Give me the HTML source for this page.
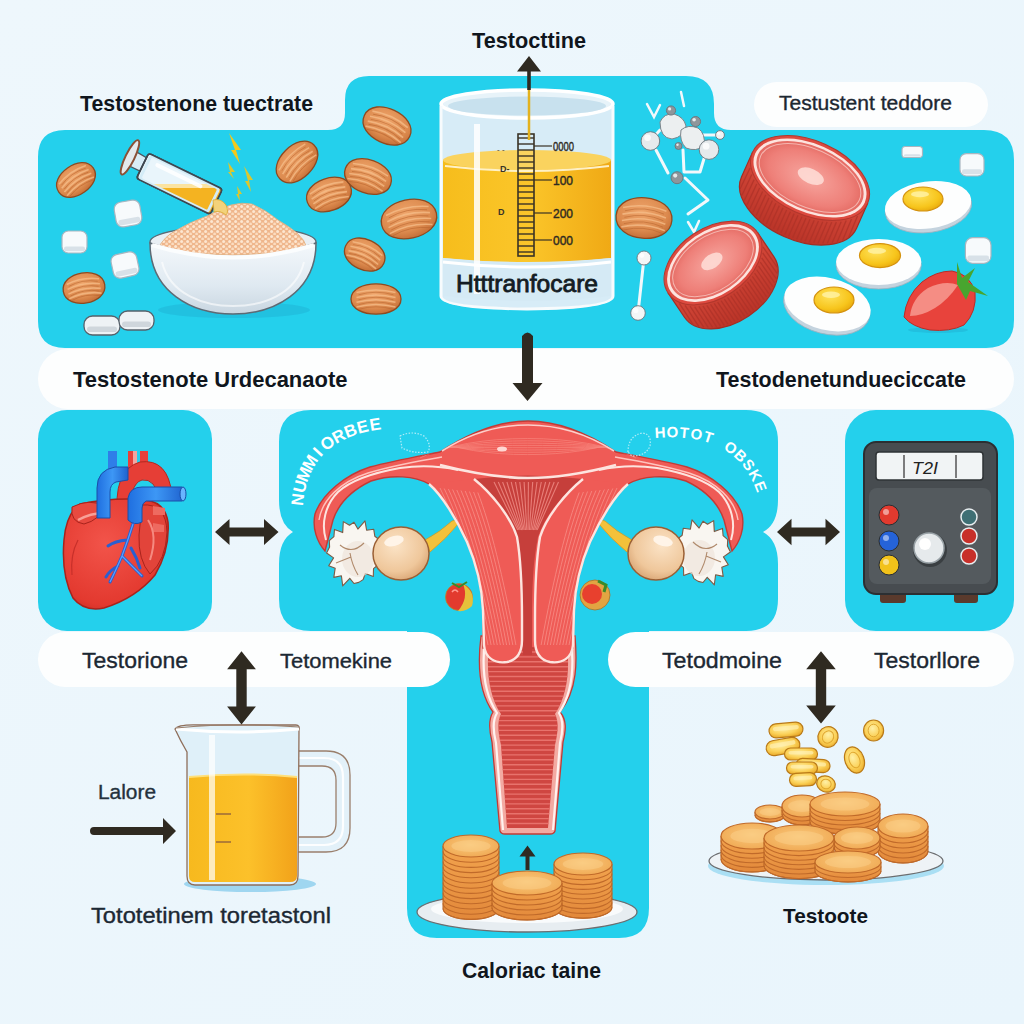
<!DOCTYPE html>
<html><head><meta charset="utf-8"><title>Testosterone diagram</title>
<style>
html,body{margin:0;padding:0;width:1024px;height:1024px;overflow:hidden;background:#e9f5fc}
svg{display:block}
text{font-family:"Liberation Sans",sans-serif}
</style></head>
<body>
<svg width="1024" height="1024" viewBox="0 0 1024 1024">
<defs>
<linearGradient id="bg" x1="0" y1="0" x2="1" y2="1">
<stop offset="0" stop-color="#eef7fc"/><stop offset="1" stop-color="#e9f5fc"/>
</linearGradient>
<radialGradient id="almG" cx="0.45" cy="0.35" r="0.7">
<stop offset="0" stop-color="#eea46a"/><stop offset="0.65" stop-color="#dc8a4e"/><stop offset="1" stop-color="#c06a33"/>
</radialGradient>
<linearGradient id="bowlG" x1="0" y1="0" x2="0" y2="1">
<stop offset="0" stop-color="#f4f8fb"/><stop offset="0.6" stop-color="#dfe9f1"/><stop offset="1" stop-color="#c9d6e0"/>
</linearGradient>
<pattern id="grain" width="6" height="5" patternUnits="userSpaceOnUse">
<rect width="6" height="5" fill="#efb68c"/>
<circle cx="1.6" cy="1.5" r="1.5" fill="#fde6d0"/><circle cx="4.6" cy="4" r="1.4" fill="#fbdcc0"/>
</pattern>
<linearGradient id="liqG" x1="0" y1="0" x2="1" y2="0">
<stop offset="0" stop-color="#f6bd1c"/><stop offset="0.5" stop-color="#fbc62a"/><stop offset="1" stop-color="#f0a915"/>
</linearGradient>
<linearGradient id="jugLiq" x1="0" y1="0" x2="1" y2="0">
<stop offset="0" stop-color="#f7b91e"/><stop offset="0.55" stop-color="#fcc12a"/><stop offset="1" stop-color="#f2a21a"/>
</linearGradient>
<linearGradient id="glassG" x1="0" y1="0" x2="1" y2="0">
<stop offset="0" stop-color="#dbeef9"/><stop offset="0.5" stop-color="#eef7fc"/><stop offset="1" stop-color="#cfe6f4"/>
</linearGradient>
<radialGradient id="meatTop" cx="0.5" cy="0.5" r="0.55">
<stop offset="0" stop-color="#f7a7a0"/><stop offset="0.7" stop-color="#ee7f78"/><stop offset="1" stop-color="#e0625a"/>
</radialGradient>
<linearGradient id="meatSide" x1="0" y1="0" x2="0" y2="1">
<stop offset="0" stop-color="#d94b3c"/><stop offset="1" stop-color="#b93428"/>
</linearGradient>
<radialGradient id="yolk" cx="0.4" cy="0.35" r="0.7">
<stop offset="0" stop-color="#ffe25a"/><stop offset="0.7" stop-color="#f7c51c"/><stop offset="1" stop-color="#e8a90c"/>
</radialGradient>
<radialGradient id="ovary" cx="0.4" cy="0.35" r="0.7">
<stop offset="0" stop-color="#fbe3c6"/><stop offset="0.7" stop-color="#efc79b"/><stop offset="1" stop-color="#d9a574"/>
</radialGradient>
<linearGradient id="uterG" x1="0" y1="0" x2="0" y2="1">
<stop offset="0" stop-color="#f4625f"/><stop offset="1" stop-color="#ea5552"/>
</linearGradient>
<radialGradient id="cookieTop" cx="0.5" cy="0.45" r="0.6">
<stop offset="0" stop-color="#f9c97c"/><stop offset="1" stop-color="#f0a852"/>
</radialGradient>
<linearGradient id="cookieSide" x1="0" y1="0" x2="0" y2="1">
<stop offset="0" stop-color="#f2a44e"/><stop offset="1" stop-color="#e2883a"/>
</linearGradient>
<radialGradient id="coinG" cx="0.45" cy="0.4" r="0.65">
<stop offset="0" stop-color="#fff0a6"/><stop offset="0.6" stop-color="#fbd158"/><stop offset="1" stop-color="#e9a928"/>
</radialGradient>
<radialGradient id="heartG" cx="0.4" cy="0.4" r="0.7">
<stop offset="0" stop-color="#f2544a"/><stop offset="0.8" stop-color="#e3392f"/><stop offset="1" stop-color="#c42a22"/>
</radialGradient>
<linearGradient id="blueV" x1="0" y1="0" x2="1" y2="0">
<stop offset="0" stop-color="#1f6fe0"/><stop offset="0.5" stop-color="#3d97f5"/><stop offset="1" stop-color="#1f63cf"/>
</linearGradient>
</defs>
<rect width="1024" height="1024" fill="url(#bg)"/>
<g fill="#24d0ec">
<path d="M65,130 L328,130 Q345,130 345,113 L345,100 Q345,76 369,76 L686,76 Q714,76 714,104 L714,113 Q714,130 731,130 L984,130 Q1014,130 1014,160 L1014,320 Q1014,348 986,348 L65,348 Q38,348 38,321 L38,157 Q38,130 65,130 Z"/>
<rect x="38" y="410" width="174" height="221" rx="29"/>
<rect x="845" y="410" width="169" height="221" rx="31"/>
<path d="M310,410 L746,410 Q778,410 778,442 L778,500 Q778,524 763,532 Q778,540 778,564 L778,599 Q778,631 746,631 L649,631 L649,908 Q649,938 619,938 L437,938 Q407,938 407,908 L407,631 L311,631 Q279,631 279,599 L279,564 Q279,540 293,532 Q279,524 279,500 L279,442 Q279,410 311,410 Z"/>
</g>
<g fill="#fdfefe">
<rect x="38" y="349" width="976" height="60" rx="30"/>
<rect x="754" y="82" width="234" height="45" rx="22.5"/>
<rect x="38" y="632" width="412" height="55" rx="27.5"/>
<rect x="608" y="632" width="406" height="55" rx="27.5"/>
</g>
<g transform="translate(76,180) rotate(-35)"><path d="M-21,0 C-21,-19.6 21,-19.6 21,0 C21,19.6 -21,19.6 -21,0 Z" fill="url(#almG)" stroke="#8e4a20" stroke-width="1.3"/><path d="M-16.4,-6.2 Q0,-11.2 16.4,-6.2" stroke="#f5bd8a" stroke-width="1.6" fill="none" opacity="0.75"/><path d="M-14.7,-4.1 Q0,-9.0 14.7,-4.1" stroke="#b8642e" stroke-width="0.9" fill="none" opacity="0.6"/><path d="M-16.4,-1.4 Q0,-6.4 16.4,-1.4" stroke="#f5bd8a" stroke-width="1.6" fill="none" opacity="0.75"/><path d="M-14.7,0.7 Q0,-4.2 14.7,0.7" stroke="#b8642e" stroke-width="0.9" fill="none" opacity="0.6"/><path d="M-16.4,3.2 Q0,-1.7 16.4,3.2" stroke="#f5bd8a" stroke-width="1.6" fill="none" opacity="0.75"/><path d="M-14.7,5.4 Q0,0.4 14.7,5.4" stroke="#b8642e" stroke-width="0.9" fill="none" opacity="0.6"/><path d="M-16.4,7.8 Q0,2.9 16.4,7.8" stroke="#f5bd8a" stroke-width="1.6" fill="none" opacity="0.75"/><path d="M-14.7,10.0 Q0,5.1 14.7,10.0" stroke="#b8642e" stroke-width="0.9" fill="none" opacity="0.6"/></g>
<g transform="translate(84,288) rotate(-10)"><path d="M-21,0 C-21,-20.2 21,-20.2 21,0 C21,20.2 -21,20.2 -21,0 Z" fill="url(#almG)" stroke="#8e4a20" stroke-width="1.3"/><path d="M-16.4,-6.5 Q0,-11.6 16.4,-6.5" stroke="#f5bd8a" stroke-width="1.6" fill="none" opacity="0.75"/><path d="M-14.7,-4.2 Q0,-9.3 14.7,-4.2" stroke="#b8642e" stroke-width="0.9" fill="none" opacity="0.6"/><path d="M-16.4,-1.5 Q0,-6.6 16.4,-1.5" stroke="#f5bd8a" stroke-width="1.6" fill="none" opacity="0.75"/><path d="M-14.7,0.8 Q0,-4.3 14.7,0.8" stroke="#b8642e" stroke-width="0.9" fill="none" opacity="0.6"/><path d="M-16.4,3.3 Q0,-1.8 16.4,3.3" stroke="#f5bd8a" stroke-width="1.6" fill="none" opacity="0.75"/><path d="M-14.7,5.6 Q0,0.4 14.7,5.6" stroke="#b8642e" stroke-width="0.9" fill="none" opacity="0.6"/><path d="M-16.4,8.1 Q0,3.0 16.4,8.1" stroke="#f5bd8a" stroke-width="1.6" fill="none" opacity="0.75"/><path d="M-14.7,10.4 Q0,5.2 14.7,10.4" stroke="#b8642e" stroke-width="0.9" fill="none" opacity="0.6"/></g>
<g transform="translate(297,162) rotate(-45)"><path d="M-24,0 C-24,-21.6 24,-21.6 24,0 C24,21.6 -24,21.6 -24,0 Z" fill="url(#almG)" stroke="#8e4a20" stroke-width="1.3"/><path d="M-18.7,-6.9 Q0,-12.3 18.7,-6.9" stroke="#f5bd8a" stroke-width="1.6" fill="none" opacity="0.75"/><path d="M-16.8,-4.5 Q0,-9.9 16.8,-4.5" stroke="#b8642e" stroke-width="0.9" fill="none" opacity="0.6"/><path d="M-18.7,-1.6 Q0,-7.0 18.7,-1.6" stroke="#f5bd8a" stroke-width="1.6" fill="none" opacity="0.75"/><path d="M-16.8,0.8 Q0,-4.6 16.8,0.8" stroke="#b8642e" stroke-width="0.9" fill="none" opacity="0.6"/><path d="M-18.7,3.5 Q0,-1.9 18.7,3.5" stroke="#f5bd8a" stroke-width="1.6" fill="none" opacity="0.75"/><path d="M-16.8,5.9 Q0,0.5 16.8,5.9" stroke="#b8642e" stroke-width="0.9" fill="none" opacity="0.6"/><path d="M-18.7,8.6 Q0,3.2 18.7,8.6" stroke="#f5bd8a" stroke-width="1.6" fill="none" opacity="0.75"/><path d="M-16.8,11.0 Q0,5.6 16.8,11.0" stroke="#b8642e" stroke-width="0.9" fill="none" opacity="0.6"/></g>
<g transform="translate(329,194.5) rotate(-20)"><path d="M-23,0 C-23,-21.6 23,-21.6 23,0 C23,21.6 -23,21.6 -23,0 Z" fill="url(#almG)" stroke="#8e4a20" stroke-width="1.3"/><path d="M-17.9,-6.9 Q0,-12.3 17.9,-6.9" stroke="#f5bd8a" stroke-width="1.6" fill="none" opacity="0.75"/><path d="M-16.1,-4.5 Q0,-9.9 16.1,-4.5" stroke="#b8642e" stroke-width="0.9" fill="none" opacity="0.6"/><path d="M-17.9,-1.6 Q0,-7.0 17.9,-1.6" stroke="#f5bd8a" stroke-width="1.6" fill="none" opacity="0.75"/><path d="M-16.1,0.8 Q0,-4.6 16.1,0.8" stroke="#b8642e" stroke-width="0.9" fill="none" opacity="0.6"/><path d="M-17.9,3.5 Q0,-1.9 17.9,3.5" stroke="#f5bd8a" stroke-width="1.6" fill="none" opacity="0.75"/><path d="M-16.1,5.9 Q0,0.5 16.1,5.9" stroke="#b8642e" stroke-width="0.9" fill="none" opacity="0.6"/><path d="M-17.9,8.6 Q0,3.2 17.9,8.6" stroke="#f5bd8a" stroke-width="1.6" fill="none" opacity="0.75"/><path d="M-16.1,11.0 Q0,5.6 16.1,11.0" stroke="#b8642e" stroke-width="0.9" fill="none" opacity="0.6"/></g>
<g transform="translate(368,176.5) rotate(20)"><path d="M-24,0 C-24,-22.3 24,-22.3 24,0 C24,22.3 -24,22.3 -24,0 Z" fill="url(#almG)" stroke="#8e4a20" stroke-width="1.3"/><path d="M-18.7,-7.1 Q0,-12.7 18.7,-7.1" stroke="#f5bd8a" stroke-width="1.6" fill="none" opacity="0.75"/><path d="M-16.8,-4.6 Q0,-10.2 16.8,-4.6" stroke="#b8642e" stroke-width="0.9" fill="none" opacity="0.6"/><path d="M-18.7,-1.6 Q0,-7.3 18.7,-1.6" stroke="#f5bd8a" stroke-width="1.6" fill="none" opacity="0.75"/><path d="M-16.8,0.8 Q0,-4.8 16.8,0.8" stroke="#b8642e" stroke-width="0.9" fill="none" opacity="0.6"/><path d="M-18.7,3.6 Q0,-2.0 18.7,3.6" stroke="#f5bd8a" stroke-width="1.6" fill="none" opacity="0.75"/><path d="M-16.8,6.1 Q0,0.5 16.8,6.1" stroke="#b8642e" stroke-width="0.9" fill="none" opacity="0.6"/><path d="M-18.7,8.9 Q0,3.3 18.7,8.9" stroke="#f5bd8a" stroke-width="1.6" fill="none" opacity="0.75"/><path d="M-16.8,11.4 Q0,5.8 16.8,11.4" stroke="#b8642e" stroke-width="0.9" fill="none" opacity="0.6"/></g>
<g transform="translate(387,126) rotate(25)"><path d="M-25,0 C-25,-23.0 25,-23.0 25,0 C25,23.0 -25,23.0 -25,0 Z" fill="url(#almG)" stroke="#8e4a20" stroke-width="1.3"/><path d="M-19.5,-7.3 Q0,-13.1 19.5,-7.3" stroke="#f5bd8a" stroke-width="1.6" fill="none" opacity="0.75"/><path d="M-17.5,-4.8 Q0,-10.5 17.5,-4.8" stroke="#b8642e" stroke-width="0.9" fill="none" opacity="0.6"/><path d="M-19.5,-1.7 Q0,-7.5 19.5,-1.7" stroke="#f5bd8a" stroke-width="1.6" fill="none" opacity="0.75"/><path d="M-17.5,0.8 Q0,-4.9 17.5,0.8" stroke="#b8642e" stroke-width="0.9" fill="none" opacity="0.6"/><path d="M-19.5,3.7 Q0,-2.0 19.5,3.7" stroke="#f5bd8a" stroke-width="1.6" fill="none" opacity="0.75"/><path d="M-17.5,6.3 Q0,0.5 17.5,6.3" stroke="#b8642e" stroke-width="0.9" fill="none" opacity="0.6"/><path d="M-19.5,9.2 Q0,3.4 19.5,9.2" stroke="#f5bd8a" stroke-width="1.6" fill="none" opacity="0.75"/><path d="M-17.5,11.7 Q0,5.9 17.5,11.7" stroke="#b8642e" stroke-width="0.9" fill="none" opacity="0.6"/></g>
<g transform="translate(409,219) rotate(-12)"><path d="M-28,0 C-28,-25.7 28,-25.7 28,0 C28,25.7 -28,25.7 -28,0 Z" fill="url(#almG)" stroke="#8e4a20" stroke-width="1.3"/><path d="M-21.8,-8.2 Q0,-14.6 21.8,-8.2" stroke="#f5bd8a" stroke-width="1.6" fill="none" opacity="0.75"/><path d="M-19.6,-5.3 Q0,-11.8 19.6,-5.3" stroke="#b8642e" stroke-width="0.9" fill="none" opacity="0.6"/><path d="M-21.8,-1.9 Q0,-8.4 21.8,-1.9" stroke="#f5bd8a" stroke-width="1.6" fill="none" opacity="0.75"/><path d="M-19.6,1.0 Q0,-5.5 19.6,1.0" stroke="#b8642e" stroke-width="0.9" fill="none" opacity="0.6"/><path d="M-21.8,4.2 Q0,-2.3 21.8,4.2" stroke="#f5bd8a" stroke-width="1.6" fill="none" opacity="0.75"/><path d="M-19.6,7.0 Q0,0.6 19.6,7.0" stroke="#b8642e" stroke-width="0.9" fill="none" opacity="0.6"/><path d="M-21.8,10.3 Q0,3.8 21.8,10.3" stroke="#f5bd8a" stroke-width="1.6" fill="none" opacity="0.75"/><path d="M-19.6,13.1 Q0,6.6 19.6,13.1" stroke="#b8642e" stroke-width="0.9" fill="none" opacity="0.6"/></g>
<g transform="translate(364.7,254.6) rotate(25)"><path d="M-21,0 C-21,-20.2 21,-20.2 21,0 C21,20.2 -21,20.2 -21,0 Z" fill="url(#almG)" stroke="#8e4a20" stroke-width="1.3"/><path d="M-16.4,-6.5 Q0,-11.6 16.4,-6.5" stroke="#f5bd8a" stroke-width="1.6" fill="none" opacity="0.75"/><path d="M-14.7,-4.2 Q0,-9.3 14.7,-4.2" stroke="#b8642e" stroke-width="0.9" fill="none" opacity="0.6"/><path d="M-16.4,-1.5 Q0,-6.6 16.4,-1.5" stroke="#f5bd8a" stroke-width="1.6" fill="none" opacity="0.75"/><path d="M-14.7,0.8 Q0,-4.3 14.7,0.8" stroke="#b8642e" stroke-width="0.9" fill="none" opacity="0.6"/><path d="M-16.4,3.3 Q0,-1.8 16.4,3.3" stroke="#f5bd8a" stroke-width="1.6" fill="none" opacity="0.75"/><path d="M-14.7,5.6 Q0,0.4 14.7,5.6" stroke="#b8642e" stroke-width="0.9" fill="none" opacity="0.6"/><path d="M-16.4,8.1 Q0,3.0 16.4,8.1" stroke="#f5bd8a" stroke-width="1.6" fill="none" opacity="0.75"/><path d="M-14.7,10.4 Q0,5.2 14.7,10.4" stroke="#b8642e" stroke-width="0.9" fill="none" opacity="0.6"/></g>
<g transform="translate(376,299) rotate(0)"><path d="M-25,0 C-25,-20.2 25,-20.2 25,0 C25,20.2 -25,20.2 -25,0 Z" fill="url(#almG)" stroke="#8e4a20" stroke-width="1.3"/><path d="M-19.5,-6.5 Q0,-11.6 19.5,-6.5" stroke="#f5bd8a" stroke-width="1.6" fill="none" opacity="0.75"/><path d="M-17.5,-4.2 Q0,-9.3 17.5,-4.2" stroke="#b8642e" stroke-width="0.9" fill="none" opacity="0.6"/><path d="M-19.5,-1.5 Q0,-6.6 19.5,-1.5" stroke="#f5bd8a" stroke-width="1.6" fill="none" opacity="0.75"/><path d="M-17.5,0.8 Q0,-4.3 17.5,0.8" stroke="#b8642e" stroke-width="0.9" fill="none" opacity="0.6"/><path d="M-19.5,3.3 Q0,-1.8 19.5,3.3" stroke="#f5bd8a" stroke-width="1.6" fill="none" opacity="0.75"/><path d="M-17.5,5.6 Q0,0.4 17.5,5.6" stroke="#b8642e" stroke-width="0.9" fill="none" opacity="0.6"/><path d="M-19.5,8.1 Q0,3.0 19.5,8.1" stroke="#f5bd8a" stroke-width="1.6" fill="none" opacity="0.75"/><path d="M-17.5,10.4 Q0,5.2 17.5,10.4" stroke="#b8642e" stroke-width="0.9" fill="none" opacity="0.6"/></g>
<g transform="translate(644,218) rotate(5)"><path d="M-28,0 C-28,-27.0 28,-27.0 28,0 C28,27.0 -28,27.0 -28,0 Z" fill="url(#almG)" stroke="#8e4a20" stroke-width="1.3"/><path d="M-21.8,-8.6 Q0,-15.4 21.8,-8.6" stroke="#f5bd8a" stroke-width="1.6" fill="none" opacity="0.75"/><path d="M-19.6,-5.6 Q0,-12.4 19.6,-5.6" stroke="#b8642e" stroke-width="0.9" fill="none" opacity="0.6"/><path d="M-21.8,-2.0 Q0,-8.8 21.8,-2.0" stroke="#f5bd8a" stroke-width="1.6" fill="none" opacity="0.75"/><path d="M-19.6,1.0 Q0,-5.8 19.6,1.0" stroke="#b8642e" stroke-width="0.9" fill="none" opacity="0.6"/><path d="M-21.8,4.4 Q0,-2.4 21.8,4.4" stroke="#f5bd8a" stroke-width="1.6" fill="none" opacity="0.75"/><path d="M-19.6,7.4 Q0,0.6 19.6,7.4" stroke="#b8642e" stroke-width="0.9" fill="none" opacity="0.6"/><path d="M-21.8,10.8 Q0,4.0 21.8,10.8" stroke="#f5bd8a" stroke-width="1.6" fill="none" opacity="0.75"/><path d="M-19.6,13.8 Q0,7.0 19.6,13.8" stroke="#b8642e" stroke-width="0.9" fill="none" opacity="0.6"/></g>
<g transform="translate(128.0,213.5) rotate(-10)"><rect x="-13.0" y="-12.5" width="26" height="25" rx="7.0" fill="#f7fafc" stroke="#a9b6c0" stroke-width="1.2"/><rect x="-11.0" y="5.0" width="22" height="5.5" rx="2" fill="#d8e1e8"/></g>
<g transform="translate(74.5,242.0) rotate(0)"><rect x="-12.5" y="-11.0" width="25" height="22" rx="6.2" fill="#f7fafc" stroke="#a9b6c0" stroke-width="1.2"/><rect x="-10.5" y="4.4" width="21" height="4.8" rx="2" fill="#d8e1e8"/></g>
<g transform="translate(125.0,265.0) rotate(-12)"><rect x="-13.0" y="-12.0" width="26" height="24" rx="6.7" fill="#f7fafc" stroke="#a9b6c0" stroke-width="1.2"/><rect x="-11.0" y="4.8" width="22" height="5.3" rx="2" fill="#d8e1e8"/></g>
<rect x="84" y="316" width="36" height="19" rx="8.5" fill="#eef2f5" stroke="#56606a" stroke-width="1.3"/><rect x="87" y="326.4" width="30" height="5.7" rx="3" fill="#cfd6dc"/>
<rect x="119" y="311" width="35" height="19" rx="8.5" fill="#eef2f5" stroke="#56606a" stroke-width="1.3"/><rect x="122" y="321.4" width="29" height="5.7" rx="3" fill="#cfd6dc"/>
<ellipse cx="234" cy="310" rx="76" ry="8" fill="#1fb0d2" opacity="0.45"/>
<ellipse cx="233" cy="242" rx="83" ry="16" fill="#e9eff4" stroke="#5e6a74" stroke-width="1.4"/>
<path d="M158,248 Q165,236 175,231 Q190,222 207,216 Q220,208 231,205 Q242,202 252,204 Q266,210 278,220 Q290,227 297,233 Q305,240 307,248 Q232,262 158,248 Z" fill="url(#grain)" stroke="#e0ae80" stroke-width="0.8"/>
<path d="M150,243 C150,292 192,314 233,314 C274,314 316,292 316,243 Q233,272 150,243 Z" fill="url(#bowlG)" stroke="#5e6a74" stroke-width="1.5"/>
<path d="M152,245 Q233,270 314,245" fill="none" stroke="#fbfdfe" stroke-width="4"/>
<path d="M162,262 C170,295 205,306 233,306 C262,306 296,295 304,262" fill="none" stroke="#ffffff" stroke-width="2" opacity="0.6"/>
<defs><clipPath id="vialClip"><path d="M-38,-14 L38,-14 Q41,-14 41,-11 L41,11 Q41,14 38,14 L-38,14 Q-41,14 -41,11 L-41,-11 Q-41,-14 -38,-14 Z" transform="translate(179.4,183.7) rotate(26)"/></clipPath></defs>
<g transform="translate(179.4,183.7) rotate(26)"><path d="M-55,-10 L-41,-9 L-41,6 L-55,6 Z" fill="#d8ecf6" stroke="#4a5660" stroke-width="1.3"/><path d="M-38,-14 L38,-14 Q41,-14 41,-11 L41,11 Q41,14 38,14 L-38,14 Q-41,14 -41,11 L-41,-11 Q-41,-14 -38,-14 Z" fill="#e9f5fb" stroke="#3d4750" stroke-width="1.6"/></g>
<rect x="120" y="187" width="110" height="40" fill="#f4b321" clip-path="url(#vialClip)"/>
<rect x="120" y="184" width="110" height="4" fill="#fbe3a0" clip-path="url(#vialClip)"/>
<g transform="translate(179.4,183.7) rotate(26)"><path d="M-38,-14 L38,-14 Q41,-14 41,-11 L41,11 Q41,14 38,14 L-38,14 Q-41,14 -41,11 L-41,-11 Q-41,-14 -38,-14 Z" fill="none" stroke="#d3ecf7" stroke-width="3" transform="scale(0.92)"/><path d="M-38,-14 L38,-14 Q41,-14 41,-11 L41,11 Q41,14 38,14 L-38,14 Q-41,14 -41,11 L-41,-11 Q-41,-14 -38,-14 Z" fill="none" stroke="#3d4750" stroke-width="1.6"/><rect x="-30" y="-9" width="52" height="4" rx="2" fill="#ffffff" opacity="0.85"/><ellipse cx="-56" cy="-2" rx="4.5" ry="19" fill="#e3e9ec" stroke="#8a5036" stroke-width="2"/></g>
<path d="M213,200 Q221,198 226,205 Q229,212 226,215 Q220,210 214,212 Z" fill="#f3d27a" stroke="#d9a935" stroke-width="0.8"/>
<path d="M229,133 L241,150 L236,150 L240,164 L231,150 L235,150 Z" fill="#f2c91c"/>
<path d="M228,162 L235,172 L231,172 L234,179 L228,172 L230,172 Z" fill="#f0c51a" opacity="0.9"/>
<path d="M244,166 L253,180 L249,180 L251,192 L245,181 L248,181 Z" fill="#f0c51a" opacity="0.9"/>
<path d="M237,186 L242,194 L239,194 L240,201 L236,194 L238,194 Z" fill="#f0c51a" opacity="0.9"/>
<path d="M441,106 L441,296 Q441,308 527,309 Q613,308 613,296 L613,106 Z" fill="#d7ecf7" stroke="#c7dbe7" stroke-width="2"/>
<path d="M443,160 Q527,150 611,160 L611,258 Q527,266 443,258 Z" fill="url(#liqG)"/>
<ellipse cx="527" cy="160" rx="84" ry="10" fill="#fad35e"/>
<path d="M445,166 Q527,176 609,166" stroke="#fff6d8" stroke-width="2" fill="none" opacity="0.9"/>
<path d="M443,258 Q527,268 611,258 L611,296 Q527,306 443,296 Z" fill="#d5eaf5"/>
<path d="M443,262 Q527,272 611,262" stroke="#ffffff" stroke-width="3" fill="none"/>
<rect x="474" y="124" width="6" height="170" fill="#ffffff" opacity="0.85"/>
<ellipse cx="527" cy="104" rx="86" ry="14" fill="#e7f3f9" stroke="#ffffff" stroke-width="3.5"/>
<ellipse cx="527" cy="106" rx="79" ry="9.5" fill="#c8e1ee"/>
<path d="M441,106 L441,296 Q441,308 527,309 Q613,308 613,296 L613,106" fill="none" stroke="#f7fbfd" stroke-width="3"/>
<rect x="518" y="134" width="16" height="122" fill="none" stroke="#3a3326" stroke-width="1.6"/>
<line x1="518" y1="138" x2="534" y2="138" stroke="#3a3326" stroke-width="1.4"/><line x1="518" y1="144" x2="534" y2="144" stroke="#3a3326" stroke-width="1.4"/><line x1="518" y1="150" x2="534" y2="150" stroke="#3a3326" stroke-width="1.4"/><line x1="518" y1="156" x2="534" y2="156" stroke="#3a3326" stroke-width="1.4"/><line x1="518" y1="162" x2="534" y2="162" stroke="#3a3326" stroke-width="1.4"/><line x1="518" y1="168" x2="534" y2="168" stroke="#3a3326" stroke-width="1.4"/><line x1="518" y1="174" x2="534" y2="174" stroke="#3a3326" stroke-width="1.4"/><line x1="518" y1="180" x2="534" y2="180" stroke="#3a3326" stroke-width="1.4"/><line x1="518" y1="186" x2="534" y2="186" stroke="#3a3326" stroke-width="1.4"/><line x1="518" y1="192" x2="534" y2="192" stroke="#3a3326" stroke-width="1.4"/><line x1="518" y1="198" x2="534" y2="198" stroke="#3a3326" stroke-width="1.4"/><line x1="518" y1="204" x2="534" y2="204" stroke="#3a3326" stroke-width="1.4"/><line x1="518" y1="210" x2="534" y2="210" stroke="#3a3326" stroke-width="1.4"/><line x1="518" y1="216" x2="534" y2="216" stroke="#3a3326" stroke-width="1.4"/><line x1="518" y1="222" x2="534" y2="222" stroke="#3a3326" stroke-width="1.4"/><line x1="518" y1="228" x2="534" y2="228" stroke="#3a3326" stroke-width="1.4"/><line x1="518" y1="234" x2="534" y2="234" stroke="#3a3326" stroke-width="1.4"/><line x1="518" y1="240" x2="534" y2="240" stroke="#3a3326" stroke-width="1.4"/><line x1="518" y1="246" x2="534" y2="246" stroke="#3a3326" stroke-width="1.4"/><line x1="518" y1="252" x2="534" y2="252" stroke="#3a3326" stroke-width="1.4"/>
<line x1="534" y1="146" x2="552" y2="146" stroke="#3a3326" stroke-width="1.2"/>
<text x="553" y="151" font-size="12" font-family="Liberation Serif" fill="#2e2a22" stroke="#2e2a22" stroke-width="0.4" textLength="21" lengthAdjust="spacingAndGlyphs">0000</text>
<line x1="534" y1="180" x2="552" y2="180" stroke="#3a3326" stroke-width="1.2"/>
<text x="553" y="185" font-size="12" font-family="Liberation Serif" fill="#2e2a22" stroke="#2e2a22" stroke-width="0.4" textLength="20" lengthAdjust="spacingAndGlyphs">100</text>
<line x1="534" y1="213" x2="552" y2="213" stroke="#3a3326" stroke-width="1.2"/>
<text x="553" y="218" font-size="12" font-family="Liberation Serif" fill="#2e2a22" stroke="#2e2a22" stroke-width="0.4" textLength="20" lengthAdjust="spacingAndGlyphs">200</text>
<line x1="534" y1="240" x2="552" y2="240" stroke="#3a3326" stroke-width="1.2"/>
<text x="553" y="245" font-size="12" font-family="Liberation Serif" fill="#2e2a22" stroke="#2e2a22" stroke-width="0.4" textLength="20" lengthAdjust="spacingAndGlyphs">000</text>
<text x="497" y="152" font-size="8" fill="#3a3326">- -</text>
<text x="500" y="172" font-size="9" font-weight="bold" fill="#3a3326">D-</text>
<text x="498" y="215" font-size="9" font-weight="bold" fill="#3a3326">D</text>
<line x1="529" y1="90" x2="529" y2="140" stroke="#e3b21e" stroke-width="2.5"/>
<text x="456" y="292" font-size="23" font-weight="normal" fill="#141c24" stroke="#141c24" stroke-width="0.8" textLength="142" lengthAdjust="spacingAndGlyphs">Htttranfocare</text>
<g stroke="#f2f8fb" stroke-width="3" fill="none" stroke-linecap="round" stroke-linejoin="round"><path d="M656,150 L668,173"/><path d="M683,150 L684,172 L700,172 L706,152"/><path d="M685,178 L708,200 L688,214"/><path d="M644,258 L638,313"/><path d="M650,141 L660,130"/><path d="M700,135 L720,135"/></g>
<path d="M647,104 L654,117 L660,105 M681,92 L684,106 M688,222 L694,232 L699,221" stroke="#f2f8fb" stroke-width="2.5" fill="none" stroke-linecap="round"/>
<path d="M660,122 Q664,113 674,114 Q684,117 686,126 Q684,137 672,139 Q660,138 660,122 Z" fill="#eceff0" stroke="#7d858b" stroke-width="1"/>
<path d="M681,130 Q688,124 698,128 Q706,134 704,146 Q696,152 686,148 Q679,141 681,130 Z" fill="#eceff0" stroke="#7d858b" stroke-width="1"/>
<circle cx="650.4" cy="141" r="9.3" fill="#e6eaec" stroke="#6c747a" stroke-width="0.9"/>
<circle cx="647.6" cy="137.7" r="3.3" fill="#ffffff" opacity="0.8"/>
<circle cx="709" cy="149.6" r="9.8" fill="#e6eaec" stroke="#6c747a" stroke-width="0.9"/>
<circle cx="706.1" cy="146.2" r="3.4" fill="#ffffff" opacity="0.8"/>
<circle cx="671" cy="110.5" r="4.6" fill="#8e969b" stroke="#6c747a" stroke-width="0.9"/>
<circle cx="669.6" cy="108.9" r="1.6" fill="#ffffff" opacity="0.8"/>
<circle cx="695.6" cy="121.5" r="5" fill="#8e969b" stroke="#6c747a" stroke-width="0.9"/>
<circle cx="694.1" cy="119.8" r="1.8" fill="#ffffff" opacity="0.8"/>
<circle cx="720" cy="135" r="4.4" fill="#f0f3f4" stroke="#6c747a" stroke-width="0.9"/>
<circle cx="718.7" cy="133.5" r="1.5" fill="#ffffff" opacity="0.8"/>
<circle cx="678.5" cy="146" r="3.5" fill="#8e969b" stroke="#6c747a" stroke-width="0.9"/>
<circle cx="677.5" cy="144.8" r="1.2" fill="#ffffff" opacity="0.8"/>
<circle cx="677" cy="177.7" r="6" fill="#8e969b" stroke="#6c747a" stroke-width="0.9"/>
<circle cx="675.2" cy="175.6" r="2.1" fill="#ffffff" opacity="0.8"/>
<circle cx="644" cy="258" r="7" fill="#f3f6f7" stroke="#6c747a" stroke-width="0.9"/>
<circle cx="641.9" cy="255.6" r="2.4" fill="#ffffff" opacity="0.8"/>
<circle cx="638" cy="313" r="7.3" fill="#f3f6f7" stroke="#6c747a" stroke-width="0.9"/>
<circle cx="635.8" cy="310.4" r="2.6" fill="#ffffff" opacity="0.8"/>
<g transform="translate(810,178) rotate(24)"><path d="M-63,0 L-63,27 A63,37 0 0 0 63,27 L63,0 Z" fill="url(#meatSide)" stroke="#a22e24" stroke-width="1.2"/><line x1="-58.8" y1="15.3" x2="-59.4" y2="38.3" stroke="#ae3228" stroke-width="1.3" opacity="0.75"/><line x1="-54.6" y1="20.5" x2="-55.1" y2="43.5" stroke="#ae3228" stroke-width="1.3" opacity="0.75"/><line x1="-50.4" y1="24.2" x2="-50.9" y2="47.2" stroke="#ae3228" stroke-width="1.3" opacity="0.75"/><line x1="-46.2" y1="27.2" x2="-46.7" y2="50.2" stroke="#ae3228" stroke-width="1.3" opacity="0.75"/><line x1="-42.0" y1="29.6" x2="-42.4" y2="52.6" stroke="#ae3228" stroke-width="1.3" opacity="0.75"/><line x1="-37.8" y1="31.6" x2="-38.2" y2="54.6" stroke="#ae3228" stroke-width="1.3" opacity="0.75"/><line x1="-33.6" y1="33.3" x2="-33.9" y2="56.3" stroke="#ae3228" stroke-width="1.3" opacity="0.75"/><line x1="-29.4" y1="34.7" x2="-29.7" y2="57.7" stroke="#ae3228" stroke-width="1.3" opacity="0.75"/><line x1="-25.2" y1="35.9" x2="-25.5" y2="58.9" stroke="#ae3228" stroke-width="1.3" opacity="0.75"/><line x1="-21.0" y1="36.9" x2="-21.2" y2="59.9" stroke="#ae3228" stroke-width="1.3" opacity="0.75"/><line x1="-16.8" y1="37.7" x2="-17.0" y2="60.7" stroke="#ae3228" stroke-width="1.3" opacity="0.75"/><line x1="-12.6" y1="38.3" x2="-12.7" y2="61.3" stroke="#ae3228" stroke-width="1.3" opacity="0.75"/><line x1="-8.4" y1="38.7" x2="-8.5" y2="61.7" stroke="#ae3228" stroke-width="1.3" opacity="0.75"/><line x1="-4.2" y1="38.9" x2="-4.2" y2="61.9" stroke="#ae3228" stroke-width="1.3" opacity="0.75"/><line x1="0.0" y1="39.0" x2="0.0" y2="62.0" stroke="#ae3228" stroke-width="1.3" opacity="0.75"/><line x1="4.2" y1="38.9" x2="4.2" y2="61.9" stroke="#ae3228" stroke-width="1.3" opacity="0.75"/><line x1="8.4" y1="38.7" x2="8.5" y2="61.7" stroke="#ae3228" stroke-width="1.3" opacity="0.75"/><line x1="12.6" y1="38.3" x2="12.7" y2="61.3" stroke="#ae3228" stroke-width="1.3" opacity="0.75"/><line x1="16.8" y1="37.7" x2="17.0" y2="60.7" stroke="#ae3228" stroke-width="1.3" opacity="0.75"/><line x1="21.0" y1="36.9" x2="21.2" y2="59.9" stroke="#ae3228" stroke-width="1.3" opacity="0.75"/><line x1="25.2" y1="35.9" x2="25.5" y2="58.9" stroke="#ae3228" stroke-width="1.3" opacity="0.75"/><line x1="29.4" y1="34.7" x2="29.7" y2="57.7" stroke="#ae3228" stroke-width="1.3" opacity="0.75"/><line x1="33.6" y1="33.3" x2="33.9" y2="56.3" stroke="#ae3228" stroke-width="1.3" opacity="0.75"/><line x1="37.8" y1="31.6" x2="38.2" y2="54.6" stroke="#ae3228" stroke-width="1.3" opacity="0.75"/><line x1="42.0" y1="29.6" x2="42.4" y2="52.6" stroke="#ae3228" stroke-width="1.3" opacity="0.75"/><line x1="46.2" y1="27.2" x2="46.7" y2="50.2" stroke="#ae3228" stroke-width="1.3" opacity="0.75"/><line x1="50.4" y1="24.2" x2="50.9" y2="47.2" stroke="#ae3228" stroke-width="1.3" opacity="0.75"/><line x1="54.6" y1="20.5" x2="55.1" y2="43.5" stroke="#ae3228" stroke-width="1.3" opacity="0.75"/><line x1="58.8" y1="15.3" x2="59.4" y2="38.3" stroke="#ae3228" stroke-width="1.3" opacity="0.75"/><ellipse rx="63" ry="37" fill="#dd4a3f" stroke="#b2372d" stroke-width="1"/><ellipse rx="60" ry="34" fill="#fde3de"/><ellipse rx="57" ry="31.5" fill="url(#meatTop)"/><ellipse rx="54" ry="29" fill="none" stroke="#fbd3cd" stroke-width="1" opacity="0.7"/><ellipse cx="0" cy="-2" rx="13.9" ry="7.4" fill="#ffe2dc" opacity="0.8"/></g>
<g transform="translate(713,263) rotate(-34)"><path d="M-54,0 L-54,29 A54,35 0 0 0 54,29 L54,0 Z" fill="url(#meatSide)" stroke="#a22e24" stroke-width="1.2"/><line x1="-50.4" y1="14.6" x2="-50.9" y2="39.6" stroke="#ae3228" stroke-width="1.3" opacity="0.75"/><line x1="-46.8" y1="19.5" x2="-47.3" y2="44.5" stroke="#ae3228" stroke-width="1.3" opacity="0.75"/><line x1="-43.2" y1="23.0" x2="-43.6" y2="48.0" stroke="#ae3228" stroke-width="1.3" opacity="0.75"/><line x1="-39.6" y1="25.8" x2="-40.0" y2="50.8" stroke="#ae3228" stroke-width="1.3" opacity="0.75"/><line x1="-36.0" y1="28.1" x2="-36.4" y2="53.1" stroke="#ae3228" stroke-width="1.3" opacity="0.75"/><line x1="-32.4" y1="30.0" x2="-32.7" y2="55.0" stroke="#ae3228" stroke-width="1.3" opacity="0.75"/><line x1="-28.8" y1="31.6" x2="-29.1" y2="56.6" stroke="#ae3228" stroke-width="1.3" opacity="0.75"/><line x1="-25.2" y1="33.0" x2="-25.5" y2="58.0" stroke="#ae3228" stroke-width="1.3" opacity="0.75"/><line x1="-21.6" y1="34.1" x2="-21.8" y2="59.1" stroke="#ae3228" stroke-width="1.3" opacity="0.75"/><line x1="-18.0" y1="35.0" x2="-18.2" y2="60.0" stroke="#ae3228" stroke-width="1.3" opacity="0.75"/><line x1="-14.4" y1="35.7" x2="-14.5" y2="60.7" stroke="#ae3228" stroke-width="1.3" opacity="0.75"/><line x1="-10.8" y1="36.3" x2="-10.9" y2="61.3" stroke="#ae3228" stroke-width="1.3" opacity="0.75"/><line x1="-7.2" y1="36.7" x2="-7.3" y2="61.7" stroke="#ae3228" stroke-width="1.3" opacity="0.75"/><line x1="-3.6" y1="36.9" x2="-3.6" y2="61.9" stroke="#ae3228" stroke-width="1.3" opacity="0.75"/><line x1="0.0" y1="37.0" x2="0.0" y2="62.0" stroke="#ae3228" stroke-width="1.3" opacity="0.75"/><line x1="3.6" y1="36.9" x2="3.6" y2="61.9" stroke="#ae3228" stroke-width="1.3" opacity="0.75"/><line x1="7.2" y1="36.7" x2="7.3" y2="61.7" stroke="#ae3228" stroke-width="1.3" opacity="0.75"/><line x1="10.8" y1="36.3" x2="10.9" y2="61.3" stroke="#ae3228" stroke-width="1.3" opacity="0.75"/><line x1="14.4" y1="35.7" x2="14.5" y2="60.7" stroke="#ae3228" stroke-width="1.3" opacity="0.75"/><line x1="18.0" y1="35.0" x2="18.2" y2="60.0" stroke="#ae3228" stroke-width="1.3" opacity="0.75"/><line x1="21.6" y1="34.1" x2="21.8" y2="59.1" stroke="#ae3228" stroke-width="1.3" opacity="0.75"/><line x1="25.2" y1="33.0" x2="25.5" y2="58.0" stroke="#ae3228" stroke-width="1.3" opacity="0.75"/><line x1="28.8" y1="31.6" x2="29.1" y2="56.6" stroke="#ae3228" stroke-width="1.3" opacity="0.75"/><line x1="32.4" y1="30.0" x2="32.7" y2="55.0" stroke="#ae3228" stroke-width="1.3" opacity="0.75"/><line x1="36.0" y1="28.1" x2="36.4" y2="53.1" stroke="#ae3228" stroke-width="1.3" opacity="0.75"/><line x1="39.6" y1="25.8" x2="40.0" y2="50.8" stroke="#ae3228" stroke-width="1.3" opacity="0.75"/><line x1="43.2" y1="23.0" x2="43.6" y2="48.0" stroke="#ae3228" stroke-width="1.3" opacity="0.75"/><line x1="46.8" y1="19.5" x2="47.3" y2="44.5" stroke="#ae3228" stroke-width="1.3" opacity="0.75"/><line x1="50.4" y1="14.6" x2="50.9" y2="39.6" stroke="#ae3228" stroke-width="1.3" opacity="0.75"/><ellipse rx="54" ry="35" fill="#dd4a3f" stroke="#b2372d" stroke-width="1"/><ellipse rx="51" ry="32" fill="#fde3de"/><ellipse rx="48" ry="29.5" fill="url(#meatTop)"/><ellipse rx="45" ry="27" fill="none" stroke="#fbd3cd" stroke-width="1" opacity="0.7"/><ellipse cx="0" cy="-2" rx="11.9" ry="7.0" fill="#ffe2dc" opacity="0.8"/></g>
<g transform="rotate(-8 928 205)"><ellipse cx="928" cy="208" rx="43.5" ry="24.5" fill="#c4d3de" stroke="#9fb1bf" stroke-width="0.8"/><ellipse cx="928" cy="205" rx="43.5" ry="23.5" fill="#fdfefe"/></g><ellipse cx="923" cy="199" rx="20" ry="12" fill="url(#yolk)" stroke="#d4920e" stroke-width="1.2"/><ellipse cx="920.0" cy="194.2" rx="9.0" ry="3.0" fill="#fff3a8" opacity="0.8"/>
<g transform="rotate(0 878.7 262)"><ellipse cx="878.7" cy="265" rx="42.6" ry="24" fill="#c4d3de" stroke="#9fb1bf" stroke-width="0.8"/><ellipse cx="878.7" cy="262" rx="42.6" ry="23" fill="#fdfefe"/></g><ellipse cx="880" cy="255.6" rx="20.5" ry="12" fill="url(#yolk)" stroke="#d4920e" stroke-width="1.2"/><ellipse cx="876.9" cy="250.8" rx="9.2" ry="3.0" fill="#fff3a8" opacity="0.8"/>
<g transform="rotate(14 827.5 304)"><ellipse cx="827.5" cy="307" rx="44" ry="27" fill="#c4d3de" stroke="#9fb1bf" stroke-width="0.8"/><ellipse cx="827.5" cy="304" rx="44" ry="26" fill="#fdfefe"/></g><ellipse cx="834" cy="300" rx="20" ry="13" fill="url(#yolk)" stroke="#d4920e" stroke-width="1.2"/><ellipse cx="831.0" cy="294.8" rx="9.0" ry="3.2" fill="#fff3a8" opacity="0.8"/>
<ellipse cx="938" cy="330" rx="30" ry="3" fill="#1fb0d2" opacity="0.5"/>
<path d="M904,317 Q906,296 922,282 Q936,271 952,271 Q970,274 975,292 Q977,312 964,325 Q950,332 930,330 Q912,327 904,317 Z" fill="#e8433c" stroke="#b92d27" stroke-width="1"/>
<path d="M910,316 Q912,298 928,288 Q945,280 958,285 Q948,300 935,308 Q922,316 910,316 Z" fill="#f7a096" opacity="0.8"/>
<path d="M957,284 L957,262 L962,278 L975,268 L968,282 L988,296 L970,291 L966,300 Z" fill="#48a52f"/>
<g transform="translate(912.25,152.0) rotate(0)"><rect x="-10.25" y="-5.5" width="20.5" height="11" rx="3.1" fill="#f7fafc" stroke="#a9b6c0" stroke-width="1.2"/><rect x="-8.25" y="2.2" width="16.5" height="2.4" rx="2" fill="#d8e1e8"/></g>
<g transform="translate(972.0,164.79999999999998) rotate(0)"><rect x="-12.0" y="-11.2" width="24" height="22.4" rx="6.3" fill="#f7fafc" stroke="#a9b6c0" stroke-width="1.2"/><rect x="-10.0" y="4.5" width="20" height="4.9" rx="2" fill="#d8e1e8"/></g>
<g transform="translate(978.1999999999999,250.5) rotate(0)"><rect x="-12.8" y="-12.8" width="25.6" height="25.6" rx="7.2" fill="#f7fafc" stroke="#a9b6c0" stroke-width="1.2"/><rect x="-10.8" y="5.1" width="21.6" height="5.6" rx="2" fill="#d8e1e8"/></g>
<rect x="108" y="451" width="9" height="22" fill="#2f7ee8"/>
<rect x="128" y="451" width="8" height="22" fill="#e7403a"/><rect x="140" y="451" width="8" height="22" fill="#e7403a"/>
<rect x="133" y="451" width="4" height="20" fill="#f3a6a0"/>
<path d="M118,520 Q112,470 140,462 Q168,458 172,495 L160,500 Q155,478 142,480 Q128,484 132,520 Z" fill="#e63e36" stroke="#b22820" stroke-width="1"/>
<path d="M80,504 Q66,514 64,540 Q61,575 73,598 Q84,612 104,608 Q136,598 155,575 Q170,550 168,522 Q165,502 145,500 Q115,497 80,504 Z" fill="url(#heartG)" stroke="#a8231c" stroke-width="1.5"/>
<path d="M72,507 Q90,498 104,506 Q100,520 84,524 Q70,522 72,507 Z" fill="#e84a40" stroke="#a8231c" stroke-width="1"/>
<path d="M142,505 Q166,503 167,532 Q166,560 150,574 Q138,560 139,535 Z" fill="#e2443a" stroke="#a8231c" stroke-width="1"/>
<path d="M153,506 L165,508 L165,515 L153,515 Z M153,523 L164,525 L164,532 L153,532 Z" fill="#ee6a60"/>
<path d="M78,520 Q92,512 108,513" stroke="#f8a098" stroke-width="2.5" fill="none"/>
<path d="M148,520 Q158,535 150,560" stroke="#f58a80" stroke-width="2" fill="none"/>
<path d="M97,518 L97,488 Q97,470 115,467 L128,467 L128,480 L116,482 Q110,484 110,492 L110,518 Z" fill="url(#blueV)" stroke="#1a4fa8" stroke-width="1"/>
<path d="M128,520 L128,498 Q130,487 142,487 L182,487 Q186,493 182,501 L146,501 Q142,503 142,508 L142,522 Q134,526 128,520 Z" fill="url(#blueV)" stroke="#1a4fa8" stroke-width="1"/>
<ellipse cx="183" cy="494" rx="3" ry="7" fill="#6ab4ff" stroke="#1a4fa8" stroke-width="1"/>
<path d="M133,524 Q128,540 122,556 Q115,572 110,582 M127,540 Q115,541 108,546 M122,556 Q132,566 142,576 M118,566 Q110,570 106,577 M131,548 Q137,558 140,568" stroke="#2a5fd0" stroke-width="3" fill="none" stroke-linecap="round"/>
<path d="M133,524 Q128,540 122,556 Q115,572 110,582 M122,556 Q132,566 142,576" stroke="#5aa0ff" stroke-width="1.2" fill="none"/>
<path d="M72,575 Q70,555 78,540" stroke="#c8302a" stroke-width="1.2" fill="none"/>
<rect x="880" y="588" width="26" height="15" rx="3" fill="#5a3a2c"/><rect x="954" y="588" width="24" height="15" rx="3" fill="#5a3a2c"/>
<rect x="864" y="442" width="133" height="152" rx="12" fill="#474c50" stroke="#2b2f32" stroke-width="2"/>
<rect x="869" y="488" width="122" height="96" rx="8" fill="#545a5e"/>
<rect x="876" y="452" width="107" height="28" rx="3" fill="#f1f4f5" stroke="#2f3336" stroke-width="1.5"/>
<text x="912" y="474" font-size="17" fill="#222" font-style="italic" textLength="26" lengthAdjust="spacingAndGlyphs">T2I</text>
<line x1="904" y1="455" x2="904" y2="478" stroke="#555" stroke-width="1.5"/><line x1="956" y1="455" x2="956" y2="478" stroke="#555" stroke-width="1.5"/>
<circle cx="889" cy="515" r="10" fill="#e23a2e" stroke="#2b2f32" stroke-width="1"/>
<circle cx="886" cy="512" r="3" fill="#ffffff" opacity="0.5"/>
<circle cx="889" cy="541" r="10" fill="#2563d8" stroke="#2b2f32" stroke-width="1"/>
<circle cx="886" cy="538" r="3" fill="#ffffff" opacity="0.5"/>
<circle cx="889" cy="565" r="10" fill="#f2c21a" stroke="#2b2f32" stroke-width="1"/>
<circle cx="886" cy="562" r="3" fill="#ffffff" opacity="0.5"/>
<circle cx="969" cy="517" r="8" fill="#3f6f74" stroke="#e8eef0" stroke-width="1.5"/>
<circle cx="969" cy="536" r="8" fill="#c8302a" stroke="#e8eef0" stroke-width="1.5"/>
<circle cx="969" cy="556" r="8" fill="#c8302a" stroke="#e8eef0" stroke-width="1.5"/>
<circle cx="930" cy="550" r="17" fill="#3a3f42"/>
<circle cx="929" cy="548" r="15" fill="#e6eaec" stroke="#9aa3a8" stroke-width="1.5"/>
<circle cx="925" cy="544" r="6" fill="#ffffff"/>
<path d="M425,540 Q440,532 452,521 Q457,519 458,524 Q447,538 430,552 Z" fill="#f3c13a" stroke="#d99a1a" stroke-width="0.8"/>
<g transform="translate(1057,0) scale(-1,1)"><path d="M425,540 Q440,532 452,521 Q457,519 458,524 Q447,538 430,552 Z" fill="#f3c13a" stroke="#d99a1a" stroke-width="0.8"/></g>
<path d="M379.1,553.0 L376.6,558.4 L377.9,565.0 L373.5,568.7 L373.3,576.4 L365.3,573.5 L363.1,579.6 L358.8,582.4 L354.0,583.5 L349.8,578.3 L342.7,585.9 L341.4,575.8 L333.8,577.4 L335.2,568.2 L328.7,565.7 L333.6,557.9 L326.6,553.0 L329.6,547.1 L329.3,540.6 L333.9,536.7 L334.5,529.4 L342.7,532.6 L343.3,521.6 L349.5,525.3 L354.0,522.2 L357.9,529.1 L365.0,520.9 L366.6,530.2 L373.7,529.2 L374.8,536.2 L379.7,540.1 L378.7,547.0 Z" fill="#f9f6f1" stroke="#7d5a44" stroke-width="1.1" stroke-linejoin="round"/><ellipse cx="358" cy="559" rx="16" ry="18" fill="#efe6dc" opacity="0.7"/><path d="M340,545 Q352,555 364,543 M350,553 Q352,565 358,575 M336,563 Q346,559 351,557" stroke="#b08a6c" stroke-width="1.1" fill="none"/>
<path d="M677.9,552.0 L680.4,557.4 L679.1,564.0 L683.5,567.7 L683.7,575.4 L691.7,572.5 L693.9,578.6 L698.2,581.4 L703.0,582.5 L707.2,577.3 L714.3,584.9 L715.6,574.8 L723.2,576.4 L721.8,567.2 L728.3,564.7 L723.4,556.9 L730.4,552.0 L727.4,546.1 L727.7,539.6 L723.1,535.7 L722.5,528.4 L714.3,531.6 L713.7,520.6 L707.5,524.3 L703.0,521.2 L699.1,528.1 L692.0,519.9 L690.4,529.2 L683.3,528.2 L682.2,535.2 L677.3,539.1 L678.3,546.0 Z" fill="#f9f6f1" stroke="#7d5a44" stroke-width="1.1" stroke-linejoin="round"/><ellipse cx="699" cy="558" rx="16" ry="18" fill="#efe6dc" opacity="0.7"/><path d="M717,544 Q705,554 693,542 M707,552 Q705,564 699,574 M721,562 Q711,558 706,556" stroke="#b08a6c" stroke-width="1.1" fill="none"/>
<ellipse cx="401" cy="553.5" rx="28" ry="26.5" fill="url(#ovary)" stroke="#9a5f34" stroke-width="1.5"/><ellipse cx="394" cy="541" rx="10" ry="5" fill="#fff6ec" opacity="0.9" transform="rotate(-15 394 541)"/>
<g transform="translate(1057,0) scale(-1,1)"><ellipse cx="401" cy="553.5" rx="28" ry="26.5" fill="url(#ovary)" stroke="#9a5f34" stroke-width="1.5"/><ellipse cx="394" cy="541" rx="10" ry="5" fill="#fff6ec" opacity="0.9" transform="rotate(-15 394 541)"/></g>
<path d="M481,636 C478,660 477,690 493,712 C488,720 489,730 492,742 L500,831 Q501,834 505,834 L550,834 Q554,834 555,831 L563,742 C566,730 567,720 560,712 C578,690 577,660 575,636 Z" fill="#f3aaa2" stroke="#c23b36" stroke-width="1.3"/>
<path d="M489,646 C486,670 489,696 501,714 C497,722 498,732 501,745 L507,828 L548,828 L555,745 C558,732 559,722 555,714 C567,696 570,670 567,646 Z" fill="#cf4641"/>
<defs><clipPath id="vagClip"><path d="M489,646 C486,670 489,696 501,714 C497,722 498,732 501,745 L507,828 L548,828 L555,745 C558,732 559,722 555,714 C567,696 570,670 567,646 Z"/></clipPath></defs>
<g clip-path="url(#vagClip)"><line x1="488" y1="652.0" x2="568" y2="652.0" stroke="#e8726c" stroke-width="1.4"/><line x1="488" y1="656.9" x2="568" y2="656.9" stroke="#e8726c" stroke-width="1.4"/><line x1="488" y1="661.8" x2="568" y2="661.8" stroke="#e8726c" stroke-width="1.4"/><line x1="488" y1="666.7" x2="568" y2="666.7" stroke="#e8726c" stroke-width="1.4"/><line x1="488" y1="671.6" x2="568" y2="671.6" stroke="#e8726c" stroke-width="1.4"/><line x1="488" y1="676.5" x2="568" y2="676.5" stroke="#e8726c" stroke-width="1.4"/><line x1="488" y1="681.4" x2="568" y2="681.4" stroke="#e8726c" stroke-width="1.4"/><line x1="488" y1="686.3" x2="568" y2="686.3" stroke="#e8726c" stroke-width="1.4"/><line x1="488" y1="691.2" x2="568" y2="691.2" stroke="#e8726c" stroke-width="1.4"/><line x1="488" y1="696.1" x2="568" y2="696.1" stroke="#e8726c" stroke-width="1.4"/><line x1="488" y1="701.0" x2="568" y2="701.0" stroke="#e8726c" stroke-width="1.4"/><line x1="488" y1="705.9" x2="568" y2="705.9" stroke="#e8726c" stroke-width="1.4"/><line x1="488" y1="710.8" x2="568" y2="710.8" stroke="#e8726c" stroke-width="1.4"/><line x1="488" y1="715.7" x2="568" y2="715.7" stroke="#e8726c" stroke-width="1.4"/><line x1="488" y1="720.6" x2="568" y2="720.6" stroke="#e8726c" stroke-width="1.4"/><line x1="488" y1="725.5" x2="568" y2="725.5" stroke="#e8726c" stroke-width="1.4"/><line x1="488" y1="730.4" x2="568" y2="730.4" stroke="#e8726c" stroke-width="1.4"/><line x1="488" y1="735.3" x2="568" y2="735.3" stroke="#e8726c" stroke-width="1.4"/><line x1="488" y1="740.2" x2="568" y2="740.2" stroke="#e8726c" stroke-width="1.4"/><line x1="488" y1="745.1" x2="568" y2="745.1" stroke="#e8726c" stroke-width="1.4"/><line x1="488" y1="750.0" x2="568" y2="750.0" stroke="#e8726c" stroke-width="1.4"/><line x1="488" y1="754.9" x2="568" y2="754.9" stroke="#e8726c" stroke-width="1.4"/><line x1="488" y1="759.8" x2="568" y2="759.8" stroke="#e8726c" stroke-width="1.4"/><line x1="488" y1="764.7" x2="568" y2="764.7" stroke="#e8726c" stroke-width="1.4"/><line x1="488" y1="769.6" x2="568" y2="769.6" stroke="#e8726c" stroke-width="1.4"/><line x1="488" y1="774.5" x2="568" y2="774.5" stroke="#e8726c" stroke-width="1.4"/><line x1="488" y1="779.4" x2="568" y2="779.4" stroke="#e8726c" stroke-width="1.4"/><line x1="488" y1="784.3" x2="568" y2="784.3" stroke="#e8726c" stroke-width="1.4"/><line x1="488" y1="789.2" x2="568" y2="789.2" stroke="#e8726c" stroke-width="1.4"/><line x1="488" y1="794.1" x2="568" y2="794.1" stroke="#e8726c" stroke-width="1.4"/><line x1="488" y1="799.0" x2="568" y2="799.0" stroke="#e8726c" stroke-width="1.4"/><line x1="488" y1="803.9" x2="568" y2="803.9" stroke="#e8726c" stroke-width="1.4"/><line x1="488" y1="808.8" x2="568" y2="808.8" stroke="#e8726c" stroke-width="1.4"/><line x1="488" y1="813.7" x2="568" y2="813.7" stroke="#e8726c" stroke-width="1.4"/><line x1="488" y1="818.6" x2="568" y2="818.6" stroke="#e8726c" stroke-width="1.4"/><line x1="488" y1="823.5" x2="568" y2="823.5" stroke="#e8726c" stroke-width="1.4"/></g>
<path d="M485,640 C482,664 483,692 497,713 C492,721 493,731 496,743 L503,830 M571,640 C574,664 573,692 559,713 C564,721 563,731 560,743 L553,830" stroke="#fff2ef" stroke-width="2.2" fill="none"/>
<defs><clipPath id="bodyClip"><path d="M325,551 C317,542 312,528 315,514 C322,494 345,475 370,467 C392,461 420,456 440,452 C470,432 500,421 528,421 C556,421 586,432 616,452 C637,456 665,461 687,467 C712,475 735,494 742,514 C745,528 740,542 732,551 L724,520 C719,505 707,491 686,481 C665,474 642,476 628,484 C615,495 600,520 590,542 C580,565 575,590 574,610 L573,648 L483,648 L483,610 C482,590 477,565 467,542 C457,520 442,495 429,484 C415,476 392,474 371,481 C350,491 338,505 333,520 Z"/></clipPath></defs>
<path d="M325,551 C317,542 312,528 315,514 C322,494 345,475 370,467 C392,461 420,456 440,452 C470,432 500,421 528,421 C556,421 586,432 616,452 C637,456 665,461 687,467 C712,475 735,494 742,514 C745,528 740,542 732,551 L724,520 C719,505 707,491 686,481 C665,474 642,476 628,484 C615,495 600,520 590,542 C580,565 575,590 574,610 L573,648 L483,648 L483,610 C482,590 477,565 467,542 C457,520 442,495 429,484 C415,476 392,474 371,481 C350,491 338,505 333,520 Z" fill="#ef5b56" stroke="#c23b36" stroke-width="1.4"/>
<path d="M474,479 Q528,472 583,479 C565,492 545,515 538,537 C533,560 532,590 532,620 L532,655 L523,655 L522,620 C522,590 521,560 517,537 C510,515 490,492 474,479 Z" fill="#c63f3b"/>
<line x1="494.0" y1="482" x2="517.8" y2="530" stroke="#f08a84" stroke-width="1.1" opacity="0.85"/><line x1="498.3" y1="482" x2="519.1" y2="530" stroke="#f08a84" stroke-width="1.1" opacity="0.85"/><line x1="502.6" y1="482" x2="520.4" y2="530" stroke="#f08a84" stroke-width="1.1" opacity="0.85"/><line x1="506.9" y1="482" x2="521.7" y2="530" stroke="#f08a84" stroke-width="1.1" opacity="0.85"/><line x1="511.2" y1="482" x2="523.0" y2="530" stroke="#f08a84" stroke-width="1.1" opacity="0.85"/><line x1="515.5" y1="482" x2="524.2" y2="530" stroke="#f08a84" stroke-width="1.1" opacity="0.85"/><line x1="519.8" y1="482" x2="525.5" y2="530" stroke="#f08a84" stroke-width="1.1" opacity="0.85"/><line x1="524.1" y1="482" x2="526.8" y2="530" stroke="#f08a84" stroke-width="1.1" opacity="0.85"/><line x1="528.4" y1="482" x2="528.1" y2="530" stroke="#f08a84" stroke-width="1.1" opacity="0.85"/><line x1="532.7" y1="482" x2="529.4" y2="530" stroke="#f08a84" stroke-width="1.1" opacity="0.85"/><line x1="537.0" y1="482" x2="530.7" y2="530" stroke="#f08a84" stroke-width="1.1" opacity="0.85"/><line x1="541.3" y1="482" x2="532.0" y2="530" stroke="#f08a84" stroke-width="1.1" opacity="0.85"/><line x1="545.6" y1="482" x2="533.3" y2="530" stroke="#f08a84" stroke-width="1.1" opacity="0.85"/><line x1="549.9" y1="482" x2="534.6" y2="530" stroke="#f08a84" stroke-width="1.1" opacity="0.85"/><line x1="554.2" y1="482" x2="535.9" y2="530" stroke="#f08a84" stroke-width="1.1" opacity="0.85"/><line x1="558.5" y1="482" x2="537.1" y2="530" stroke="#f08a84" stroke-width="1.1" opacity="0.85"/>
<defs><clipPath id="lobeClip"><path d="M429,484 C442,495 457,520 467,542 C477,565 482,590 483,610 L484,645 C485,658 495,664 507,662 C517,660 522,652 522,640 L522,620 C522,590 521,560 517,537 C510,515 490,492 474,479 Z"/></clipPath></defs>
<g><path d="M429,484 C442,495 457,520 467,542 C477,565 482,590 483,610 L484,645 C485,658 495,664 507,662 C517,660 522,652 522,640 L522,620 C522,590 521,560 517,537 C510,515 490,492 474,479" fill="#ef5b56"/><g clip-path="url(#lobeClip)"><path d="M440.0,488.0 C458.0,525 474.0,575 488.0,645" stroke="#f8948d" stroke-width="0.9" fill="none" opacity="0.8"/><path d="M444.2,488.5 C461.6,525 477.2,575 491.1,645" stroke="#f8948d" stroke-width="0.9" fill="none" opacity="0.8"/><path d="M448.4,489.0 C465.2,525 480.4,575 494.2,645" stroke="#f8948d" stroke-width="0.9" fill="none" opacity="0.8"/><path d="M452.6,489.5 C468.8,525 483.6,575 497.3,645" stroke="#f8948d" stroke-width="0.9" fill="none" opacity="0.8"/><path d="M456.8,490.0 C472.4,525 486.8,575 500.4,645" stroke="#f8948d" stroke-width="0.9" fill="none" opacity="0.8"/><path d="M461.0,490.5 C476.0,525 490.0,575 503.5,645" stroke="#f8948d" stroke-width="0.9" fill="none" opacity="0.8"/><path d="M465.2,491.0 C479.6,525 493.2,575 506.6,645" stroke="#f8948d" stroke-width="0.9" fill="none" opacity="0.8"/><path d="M469.4,491.5 C483.2,525 496.4,575 509.7,645" stroke="#f8948d" stroke-width="0.9" fill="none" opacity="0.8"/><path d="M473.6,492.0 C486.8,525 499.6,575 512.8,645" stroke="#f8948d" stroke-width="0.9" fill="none" opacity="0.8"/><path d="M477.8,492.5 C490.4,525 502.8,575 515.9,645" stroke="#f8948d" stroke-width="0.9" fill="none" opacity="0.8"/></g><path d="M429,484 C442,495 457,520 467,542 C477,565 482,590 483,610 L484,645 C485,658 495,664 507,662 C517,660 522,652 522,640 L522,620 C522,590 521,560 517,537 C510,515 490,492 474,479" fill="none" stroke="#fde4df" stroke-width="2.4"/></g>
<g transform="translate(1057,0) scale(-1,1)"><path d="M429,484 C442,495 457,520 467,542 C477,565 482,590 483,610 L484,645 C485,658 495,664 507,662 C517,660 522,652 522,640 L522,620 C522,590 521,560 517,537 C510,515 490,492 474,479" fill="#ef5b56"/><g clip-path="url(#lobeClip)"><path d="M440.0,488.0 C458.0,525 474.0,575 488.0,645" stroke="#f8948d" stroke-width="0.9" fill="none" opacity="0.8"/><path d="M444.2,488.5 C461.6,525 477.2,575 491.1,645" stroke="#f8948d" stroke-width="0.9" fill="none" opacity="0.8"/><path d="M448.4,489.0 C465.2,525 480.4,575 494.2,645" stroke="#f8948d" stroke-width="0.9" fill="none" opacity="0.8"/><path d="M452.6,489.5 C468.8,525 483.6,575 497.3,645" stroke="#f8948d" stroke-width="0.9" fill="none" opacity="0.8"/><path d="M456.8,490.0 C472.4,525 486.8,575 500.4,645" stroke="#f8948d" stroke-width="0.9" fill="none" opacity="0.8"/><path d="M461.0,490.5 C476.0,525 490.0,575 503.5,645" stroke="#f8948d" stroke-width="0.9" fill="none" opacity="0.8"/><path d="M465.2,491.0 C479.6,525 493.2,575 506.6,645" stroke="#f8948d" stroke-width="0.9" fill="none" opacity="0.8"/><path d="M469.4,491.5 C483.2,525 496.4,575 509.7,645" stroke="#f8948d" stroke-width="0.9" fill="none" opacity="0.8"/><path d="M473.6,492.0 C486.8,525 499.6,575 512.8,645" stroke="#f8948d" stroke-width="0.9" fill="none" opacity="0.8"/><path d="M477.8,492.5 C490.4,525 502.8,575 515.9,645" stroke="#f8948d" stroke-width="0.9" fill="none" opacity="0.8"/></g><path d="M429,484 C442,495 457,520 467,542 C477,565 482,590 483,610 L484,645 C485,658 495,664 507,662 C517,660 522,652 522,640 L522,620 C522,590 521,560 517,537 C510,515 490,492 474,479" fill="none" stroke="#fde4df" stroke-width="2.4"/></g>
<g clip-path="url(#bodyClip)"><path d="M420,458.0 C470,432 585,432 636,458.0" stroke="#f8877f" stroke-width="0.9" fill="none" opacity="0.75"/><path d="M422,455.2 C470,436 585,436 634,455.2" stroke="#f8877f" stroke-width="0.9" fill="none" opacity="0.75"/><path d="M424,452.4 C470,440 585,440 632,452.4" stroke="#f8877f" stroke-width="0.9" fill="none" opacity="0.75"/><path d="M426,449.6 C470,444 585,444 630,449.6" stroke="#f8877f" stroke-width="0.9" fill="none" opacity="0.75"/><path d="M428,446.8 C470,448 585,448 628,446.8" stroke="#f8877f" stroke-width="0.9" fill="none" opacity="0.75"/><path d="M430,444.0 C470,452 585,452 626,444.0" stroke="#f8877f" stroke-width="0.9" fill="none" opacity="0.75"/><path d="M432,441.2 C470,456 585,456 624,441.2" stroke="#f8877f" stroke-width="0.9" fill="none" opacity="0.75"/><path d="M434,438.4 C470,460 585,460 622,438.4" stroke="#f8877f" stroke-width="0.9" fill="none" opacity="0.75"/></g>
<path d="M326,540 C321,524 325,505 338,492 C350,481 372,473 400,468 C420,465 440,466 458,470" stroke="#fde4df" stroke-width="2" fill="none"/><path d="M319,520 C322,500 340,482 368,473 C392,466 418,461 442,457" stroke="#ffc3bd" stroke-width="1.4" fill="none"/>
<g transform="translate(1057,0) scale(-1,1)"><path d="M326,540 C321,524 325,505 338,492 C350,481 372,473 400,468 C420,465 440,466 458,470" stroke="#fde4df" stroke-width="2" fill="none"/><path d="M319,520 C322,500 340,482 368,473 C392,466 418,461 442,457" stroke="#ffc3bd" stroke-width="1.4" fill="none"/></g>
<path d="M440,465 C475,474 500,478 528,478 C556,478 582,474 616,465" stroke="#fde4df" stroke-width="2.6" fill="none"/>
<path d="M442,451 C470,433 500,425 528,425 C556,425 586,433 614,451" stroke="#fccfca" stroke-width="1.6" fill="none"/>
<ellipse cx="502" cy="449" rx="5" ry="2.5" fill="#ffd7d3"/>
<circle cx="459" cy="597" r="13.5" fill="#e23a2e" stroke="#b8862a" stroke-width="0.8"/><path d="M463,584 Q476,592 472,606 Q466,612 458,611 Q469,598 463,584 Z" fill="#e6c13a"/>
<path d="M452,583 L459,587 L467,582" stroke="#3a8a28" stroke-width="2" fill="none"/><path d="M452,592 Q455,588 458,592" stroke="#ff9a90" stroke-width="1.5" fill="none"/>
<circle cx="595" cy="595" r="15" fill="#e2a442" stroke="#a7722a" stroke-width="0.8"/><circle cx="592" cy="594" r="10" fill="#e8402e"/>
<path d="M598,581 L606,585 L604,592" stroke="#3a8a28" stroke-width="3" fill="none"/>
<text x="0" y="0" transform="translate(303.5,500.2) rotate(-83.2)" text-anchor="middle" font-size="17" font-weight="bold" fill="#ffffff">N</text><text x="0" y="0" transform="translate(305.7,487.9) rotate(-76.2)" text-anchor="middle" font-size="17" font-weight="bold" fill="#ffffff">U</text><text x="0" y="0" transform="translate(309.3,476.5) rotate(-68.0)" text-anchor="middle" font-size="17" font-weight="bold" fill="#ffffff">M</text><text x="0" y="0" transform="translate(314.9,465.6) rotate(-58.2)" text-anchor="middle" font-size="17" font-weight="bold" fill="#ffffff">M</text><text x="0" y="0" transform="translate(322.2,455.7) rotate(-47.6)" text-anchor="middle" font-size="17" font-weight="bold" fill="#ffffff">I</text><text x="0" y="0" transform="translate(331.1,447.6) rotate(-37.4)" text-anchor="middle" font-size="17" font-weight="bold" fill="#ffffff">O</text><text x="0" y="0" transform="translate(341.4,441.0) rotate(-28.1)" text-anchor="middle" font-size="17" font-weight="bold" fill="#ffffff">R</text><text x="0" y="0" transform="translate(352.6,436.0) rotate(-20.3)" text-anchor="middle" font-size="17" font-weight="bold" fill="#ffffff">B</text><text x="0" y="0" transform="translate(364.1,432.4) rotate(-14.1)" text-anchor="middle" font-size="17" font-weight="bold" fill="#ffffff">E</text><text x="0" y="0" transform="translate(376.1,430.0) rotate(-9.0)" text-anchor="middle" font-size="17" font-weight="bold" fill="#ffffff">E</text>
<text x="0" y="0" transform="translate(660.5,437.6) rotate(-3.3)" text-anchor="middle" font-size="15" font-weight="bold" fill="#ffffff">H</text><text x="0" y="0" transform="translate(672.4,437.3) rotate(0.6)" text-anchor="middle" font-size="15" font-weight="bold" fill="#ffffff">O</text><text x="0" y="0" transform="translate(683.9,437.8) rotate(5.2)" text-anchor="middle" font-size="15" font-weight="bold" fill="#ffffff">T</text><text x="0" y="0" transform="translate(695.5,439.4) rotate(10.7)" text-anchor="middle" font-size="15" font-weight="bold" fill="#ffffff">O</text><text x="0" y="0" transform="translate(706.8,442.2) rotate(17.4)" text-anchor="middle" font-size="15" font-weight="bold" fill="#ffffff">T</text><text x="0" y="0" transform="translate(727.7,452.1) rotate(34.3)" text-anchor="middle" font-size="15" font-weight="bold" fill="#ffffff">O</text><text x="0" y="0" transform="translate(736.8,459.4) rotate(43.8)" text-anchor="middle" font-size="15" font-weight="bold" fill="#ffffff">B</text><text x="0" y="0" transform="translate(744.4,467.9) rotate(52.9)" text-anchor="middle" font-size="15" font-weight="bold" fill="#ffffff">S</text><text x="0" y="0" transform="translate(750.7,477.8) rotate(61.5)" text-anchor="middle" font-size="15" font-weight="bold" fill="#ffffff">K</text><text x="0" y="0" transform="translate(755.6,488.4) rotate(68.8)" text-anchor="middle" font-size="15" font-weight="bold" fill="#ffffff">E</text>
<path d="M628,452 Q628,436 642,433 Q652,434 650,446 Q646,456 632,456 Z" fill="none" stroke="#d8f4fb" stroke-width="1.2" stroke-dasharray="1.5 1.5" opacity="0.8"/>
<path d="M400,436 Q412,430 424,436 Q432,444 428,452 Q414,454 402,448 Z" fill="none" stroke="#d8f4fb" stroke-width="1.2" stroke-dasharray="1.5 1.5" opacity="0.8"/>
<ellipse cx="250" cy="884" rx="66" ry="8" fill="#9fd6f0"/>
<path d="M296,751 L326,751 Q350,751 350,775 L350,828 Q350,852 326,852 L296,852 L296,837 L322,837 Q336,837 336,823 L336,780 Q336,766 322,766 L296,766 Z" fill="#e3f1f9" stroke="#9a7f6c" stroke-width="1.3"/>
<path d="M298,758 L324,758 Q343,758 343,777 L343,826 Q343,845 324,845 L298,845" fill="none" stroke="#ffffff" stroke-width="2.2" opacity="0.9"/>
<path d="M175,729 Q178,724 200,725 L296,725 Q300,725 299,730 L298,876 Q298,885 290,885 L195,885 Q187,885 187,876 L187,752 Q180,740 175,729 Z" fill="#dff0f9" stroke="#8e6e5a" stroke-width="1.3"/>
<path d="M189,777 Q245,772 297,777 L297,876 Q297,882 290,882 L195,882 Q189,882 189,876 Z" fill="url(#jugLiq)"/>
<path d="M189,777 Q245,772 297,777" stroke="#ffe07a" stroke-width="2" fill="none"/>
<rect x="209" y="735" width="6" height="145" fill="#ffffff" opacity="0.7"/>
<line x1="216" y1="814" x2="231" y2="814" stroke="#9a6a3a" stroke-width="1.5"/><line x1="216" y1="842" x2="231" y2="842" stroke="#9a6a3a" stroke-width="1.5"/>
<path d="M176,729 Q240,735 299,729" stroke="#ffffff" stroke-width="3" fill="none"/>
<path d="M176,728 Q240,722 299,727" stroke="#9a7f6c" stroke-width="1.2" fill="none"/>
<ellipse cx="527" cy="912" rx="110" ry="20" fill="#e7edf1" stroke="#6c6e70" stroke-width="1.3"/>
<ellipse cx="527" cy="909" rx="96" ry="14" fill="#f9fbfc"/>
<path d="M443,846 L443,908.4 A28,11 0 0 0 499,908.4 L499,846 Z" fill="url(#cookieSide)" stroke="#b5601f" stroke-width="1"/><path d="M443,851.2 A28,11 0 0 0 499,851.2" stroke="#c06a2a" stroke-width="1.1" fill="none"/><path d="M443,856.4 A28,11 0 0 0 499,856.4" stroke="#c06a2a" stroke-width="1.1" fill="none"/><path d="M443,861.6 A28,11 0 0 0 499,861.6" stroke="#c06a2a" stroke-width="1.1" fill="none"/><path d="M443,866.8 A28,11 0 0 0 499,866.8" stroke="#c06a2a" stroke-width="1.1" fill="none"/><path d="M443,872.0 A28,11 0 0 0 499,872.0" stroke="#c06a2a" stroke-width="1.1" fill="none"/><path d="M443,877.2 A28,11 0 0 0 499,877.2" stroke="#c06a2a" stroke-width="1.1" fill="none"/><path d="M443,882.4 A28,11 0 0 0 499,882.4" stroke="#c06a2a" stroke-width="1.1" fill="none"/><path d="M443,887.6 A28,11 0 0 0 499,887.6" stroke="#c06a2a" stroke-width="1.1" fill="none"/><path d="M443,892.8 A28,11 0 0 0 499,892.8" stroke="#c06a2a" stroke-width="1.1" fill="none"/><path d="M443,898.0 A28,11 0 0 0 499,898.0" stroke="#c06a2a" stroke-width="1.1" fill="none"/><path d="M443,903.2 A28,11 0 0 0 499,903.2" stroke="#c06a2a" stroke-width="1.1" fill="none"/><path d="M443,908.4 A28,11 0 0 0 499,908.4" stroke="#c06a2a" stroke-width="1.1" fill="none"/><ellipse cx="471" cy="846" rx="28" ry="11" fill="url(#cookieTop)" stroke="#c06a2a" stroke-width="1.2"/><ellipse cx="471" cy="846" rx="19.6" ry="6.1" fill="#fbd08a" opacity="0.5"/>
<path d="M554,864 L554,907.2 A29,11 0 0 0 612,907.2 L612,864 Z" fill="url(#cookieSide)" stroke="#b5601f" stroke-width="1"/><path d="M554,868.8 A29,11 0 0 0 612,868.8" stroke="#c06a2a" stroke-width="1.1" fill="none"/><path d="M554,873.6 A29,11 0 0 0 612,873.6" stroke="#c06a2a" stroke-width="1.1" fill="none"/><path d="M554,878.4 A29,11 0 0 0 612,878.4" stroke="#c06a2a" stroke-width="1.1" fill="none"/><path d="M554,883.2 A29,11 0 0 0 612,883.2" stroke="#c06a2a" stroke-width="1.1" fill="none"/><path d="M554,888.0 A29,11 0 0 0 612,888.0" stroke="#c06a2a" stroke-width="1.1" fill="none"/><path d="M554,892.8 A29,11 0 0 0 612,892.8" stroke="#c06a2a" stroke-width="1.1" fill="none"/><path d="M554,897.6 A29,11 0 0 0 612,897.6" stroke="#c06a2a" stroke-width="1.1" fill="none"/><path d="M554,902.4 A29,11 0 0 0 612,902.4" stroke="#c06a2a" stroke-width="1.1" fill="none"/><path d="M554,907.2 A29,11 0 0 0 612,907.2" stroke="#c06a2a" stroke-width="1.1" fill="none"/><ellipse cx="583" cy="864" rx="29" ry="11" fill="url(#cookieTop)" stroke="#c06a2a" stroke-width="1.2"/><ellipse cx="583" cy="864" rx="20.3" ry="6.1" fill="#fbd08a" opacity="0.5"/>
<path d="M492,883 L492,908 A35,12 0 0 0 562,908 L562,883 Z" fill="url(#cookieSide)" stroke="#b5601f" stroke-width="1"/><path d="M492,888 A35,12 0 0 0 562,888" stroke="#c06a2a" stroke-width="1.1" fill="none"/><path d="M492,893 A35,12 0 0 0 562,893" stroke="#c06a2a" stroke-width="1.1" fill="none"/><path d="M492,898 A35,12 0 0 0 562,898" stroke="#c06a2a" stroke-width="1.1" fill="none"/><path d="M492,903 A35,12 0 0 0 562,903" stroke="#c06a2a" stroke-width="1.1" fill="none"/><path d="M492,908 A35,12 0 0 0 562,908" stroke="#c06a2a" stroke-width="1.1" fill="none"/><ellipse cx="527" cy="883" rx="35" ry="12" fill="url(#cookieTop)" stroke="#c06a2a" stroke-width="1.2"/><ellipse cx="527" cy="883" rx="24.5" ry="6.6" fill="#fbd08a" opacity="0.5"/>
<ellipse cx="826" cy="866" rx="118" ry="19" fill="#7fd0ef" opacity="0.6"/>
<ellipse cx="826" cy="861" rx="117" ry="19" fill="#eef3f6" stroke="#6c6e70" stroke-width="1.3"/>
<path d="M755,812 L755,815 A15,7 0 0 0 785,815 L785,812 Z" fill="url(#cookieSide)" stroke="#b5601f" stroke-width="1"/><path d="M755,815 A15,7 0 0 0 785,815" stroke="#c06a2a" stroke-width="1.1" fill="none"/><ellipse cx="770" cy="812" rx="15" ry="7" fill="url(#cookieTop)" stroke="#c06a2a" stroke-width="1.2"/><ellipse cx="770" cy="812" rx="10.5" ry="3.9" fill="#fbd08a" opacity="0.5"/>
<path d="M782,806 L782,814 A20,11 0 0 0 822,814 L822,806 Z" fill="url(#cookieSide)" stroke="#b5601f" stroke-width="1"/><path d="M782,810 A20,11 0 0 0 822,810" stroke="#c06a2a" stroke-width="1.1" fill="none"/><path d="M782,814 A20,11 0 0 0 822,814" stroke="#c06a2a" stroke-width="1.1" fill="none"/><ellipse cx="802" cy="806" rx="20" ry="11" fill="url(#cookieTop)" stroke="#c06a2a" stroke-width="1.2"/><ellipse cx="802" cy="806" rx="14.0" ry="6.1" fill="#fbd08a" opacity="0.5"/>
<path d="M810,804 L810,822.0 A35,12 0 0 0 880,822.0 L880,804 Z" fill="url(#cookieSide)" stroke="#b5601f" stroke-width="1"/><path d="M810,808.5 A35,12 0 0 0 880,808.5" stroke="#c06a2a" stroke-width="1.1" fill="none"/><path d="M810,813.0 A35,12 0 0 0 880,813.0" stroke="#c06a2a" stroke-width="1.1" fill="none"/><path d="M810,817.5 A35,12 0 0 0 880,817.5" stroke="#c06a2a" stroke-width="1.1" fill="none"/><path d="M810,822.0 A35,12 0 0 0 880,822.0" stroke="#c06a2a" stroke-width="1.1" fill="none"/><ellipse cx="845" cy="804" rx="35" ry="12" fill="url(#cookieTop)" stroke="#c06a2a" stroke-width="1.2"/><ellipse cx="845" cy="804" rx="24.5" ry="6.6" fill="#fbd08a" opacity="0.5"/>
<path d="M878,826 L878,851 A25,12 0 0 0 928,851 L928,826 Z" fill="url(#cookieSide)" stroke="#b5601f" stroke-width="1"/><path d="M878,831 A25,12 0 0 0 928,831" stroke="#c06a2a" stroke-width="1.1" fill="none"/><path d="M878,836 A25,12 0 0 0 928,836" stroke="#c06a2a" stroke-width="1.1" fill="none"/><path d="M878,841 A25,12 0 0 0 928,841" stroke="#c06a2a" stroke-width="1.1" fill="none"/><path d="M878,846 A25,12 0 0 0 928,846" stroke="#c06a2a" stroke-width="1.1" fill="none"/><path d="M878,851 A25,12 0 0 0 928,851" stroke="#c06a2a" stroke-width="1.1" fill="none"/><ellipse cx="903" cy="826" rx="25" ry="12" fill="url(#cookieTop)" stroke="#c06a2a" stroke-width="1.2"/><ellipse cx="903" cy="826" rx="17.5" ry="6.6" fill="#fbd08a" opacity="0.5"/>
<path d="M721,836 L721,859.0 A31,13 0 0 0 783,859.0 L783,836 Z" fill="url(#cookieSide)" stroke="#b5601f" stroke-width="1"/><path d="M721,840.6 A31,13 0 0 0 783,840.6" stroke="#c06a2a" stroke-width="1.1" fill="none"/><path d="M721,845.2 A31,13 0 0 0 783,845.2" stroke="#c06a2a" stroke-width="1.1" fill="none"/><path d="M721,849.8 A31,13 0 0 0 783,849.8" stroke="#c06a2a" stroke-width="1.1" fill="none"/><path d="M721,854.4 A31,13 0 0 0 783,854.4" stroke="#c06a2a" stroke-width="1.1" fill="none"/><path d="M721,859.0 A31,13 0 0 0 783,859.0" stroke="#c06a2a" stroke-width="1.1" fill="none"/><ellipse cx="752" cy="836" rx="31" ry="13" fill="url(#cookieTop)" stroke="#c06a2a" stroke-width="1.2"/><ellipse cx="752" cy="836" rx="21.7" ry="7.2" fill="#fbd08a" opacity="0.5"/>
<path d="M834,838 L834,847.0 A23,11 0 0 0 880,847.0 L880,838 Z" fill="url(#cookieSide)" stroke="#b5601f" stroke-width="1"/><path d="M834,842.5 A23,11 0 0 0 880,842.5" stroke="#c06a2a" stroke-width="1.1" fill="none"/><path d="M834,847.0 A23,11 0 0 0 880,847.0" stroke="#c06a2a" stroke-width="1.1" fill="none"/><ellipse cx="857" cy="838" rx="23" ry="11" fill="url(#cookieTop)" stroke="#c06a2a" stroke-width="1.2"/><ellipse cx="857" cy="838" rx="16.1" ry="6.1" fill="#fbd08a" opacity="0.5"/>
<path d="M764,838 L764,865.6 A35,13 0 0 0 834,865.6 L834,838 Z" fill="url(#cookieSide)" stroke="#b5601f" stroke-width="1"/><path d="M764,842.6 A35,13 0 0 0 834,842.6" stroke="#c06a2a" stroke-width="1.1" fill="none"/><path d="M764,847.2 A35,13 0 0 0 834,847.2" stroke="#c06a2a" stroke-width="1.1" fill="none"/><path d="M764,851.8 A35,13 0 0 0 834,851.8" stroke="#c06a2a" stroke-width="1.1" fill="none"/><path d="M764,856.4 A35,13 0 0 0 834,856.4" stroke="#c06a2a" stroke-width="1.1" fill="none"/><path d="M764,861.0 A35,13 0 0 0 834,861.0" stroke="#c06a2a" stroke-width="1.1" fill="none"/><path d="M764,865.6 A35,13 0 0 0 834,865.6" stroke="#c06a2a" stroke-width="1.1" fill="none"/><ellipse cx="799" cy="838" rx="35" ry="13" fill="url(#cookieTop)" stroke="#c06a2a" stroke-width="1.2"/><ellipse cx="799" cy="838" rx="24.5" ry="7.2" fill="#fbd08a" opacity="0.5"/>
<path d="M815,862 L815,871.0 A33,11 0 0 0 881,871.0 L881,862 Z" fill="url(#cookieSide)" stroke="#b5601f" stroke-width="1"/><path d="M815,866.5 A33,11 0 0 0 881,866.5" stroke="#c06a2a" stroke-width="1.1" fill="none"/><path d="M815,871.0 A33,11 0 0 0 881,871.0" stroke="#c06a2a" stroke-width="1.1" fill="none"/><ellipse cx="848" cy="862" rx="33" ry="11" fill="url(#cookieTop)" stroke="#c06a2a" stroke-width="1.2"/><ellipse cx="848" cy="862" rx="23.1" ry="6.1" fill="#fbd08a" opacity="0.5"/>
<g transform="rotate(-5 786 730)"><rect x="769.0" y="723.0" width="34" height="14" rx="7.0" fill="url(#coinG)" stroke="#b97a18" stroke-width="1.2"/><rect x="773.0" y="726.0" width="26" height="4.2" rx="2" fill="#fff0b0" opacity="0.7"/></g>
<g transform="rotate(-10 783 746.5)"><rect x="766.0" y="739.0" width="34" height="15" rx="7.5" fill="url(#coinG)" stroke="#b97a18" stroke-width="1.2"/><rect x="770.0" y="742.0" width="26" height="4.5" rx="2" fill="#fff0b0" opacity="0.7"/></g>
<g transform="rotate(0 801 754)"><rect x="784.5" y="748.0" width="33" height="12" rx="6.0" fill="url(#coinG)" stroke="#b97a18" stroke-width="1.2"/><rect x="788.5" y="751.0" width="25" height="3.6" rx="2" fill="#fff0b0" opacity="0.7"/></g>
<g transform="rotate(3 813 765.5)"><rect x="796.0" y="759.0" width="34" height="13" rx="6.5" fill="url(#coinG)" stroke="#b97a18" stroke-width="1.2"/><rect x="800.0" y="762.0" width="26" height="3.9" rx="2" fill="#fff0b0" opacity="0.7"/></g>
<g transform="rotate(0 802 768)"><rect x="786.5" y="762.0" width="31" height="12" rx="6.0" fill="url(#coinG)" stroke="#b97a18" stroke-width="1.2"/><rect x="790.5" y="765.0" width="23" height="3.6" rx="2" fill="#fff0b0" opacity="0.7"/></g>
<g transform="rotate(-3 803 779.5)"><rect x="789.5" y="773.0" width="27" height="13" rx="6.5" fill="url(#coinG)" stroke="#b97a18" stroke-width="1.2"/><rect x="793.5" y="776.0" width="19" height="3.9" rx="2" fill="#fff0b0" opacity="0.7"/></g>
<ellipse cx="826" cy="784" rx="9.5" ry="8" transform="rotate(20 826 784)" fill="url(#coinG)" stroke="#b97a18" stroke-width="1.2"/><ellipse cx="826" cy="784" rx="5.2" ry="4.8" transform="rotate(20 826 784)" fill="none" stroke="#e0a830" stroke-width="1"/>
<ellipse cx="828" cy="737" rx="10" ry="10.5" transform="rotate(30 828 737)" fill="url(#coinG)" stroke="#b97a18" stroke-width="1.2"/><ellipse cx="828" cy="737" rx="5.5" ry="6.3" transform="rotate(30 828 737)" fill="none" stroke="#e0a830" stroke-width="1"/>
<ellipse cx="873.6" cy="730.5" rx="10" ry="10.5" transform="rotate(0 873.6 730.5)" fill="url(#coinG)" stroke="#b97a18" stroke-width="1.2"/><ellipse cx="873.6" cy="730.5" rx="5.5" ry="6.3" transform="rotate(0 873.6 730.5)" fill="none" stroke="#e0a830" stroke-width="1"/>
<ellipse cx="854.5" cy="760" rx="9.5" ry="13.5" transform="rotate(-20 854.5 760)" fill="url(#coinG)" stroke="#b97a18" stroke-width="1.2"/><ellipse cx="854.5" cy="760" rx="5.2" ry="8.1" transform="rotate(-20 854.5 760)" fill="none" stroke="#e0a830" stroke-width="1"/>
<g>
<text x="472" y="48" font-size="21.5" font-weight="bold" fill="#10161d" textLength="114" lengthAdjust="spacingAndGlyphs">Testocttine</text>
<text x="80" y="111" font-size="22" font-weight="bold" fill="#10161d" textLength="233" lengthAdjust="spacingAndGlyphs">Testostenone tuectrate</text>
<text x="779" y="110" font-size="20" font-weight="normal" fill="#1c2731" stroke="#1c2731" stroke-width="0.35" textLength="173" lengthAdjust="spacingAndGlyphs">Testustent teddore</text>
<text x="73" y="387" font-size="22" font-weight="bold" fill="#10161d" textLength="274.5" lengthAdjust="spacingAndGlyphs">Testostenote Urdecanaote</text>
<text x="716" y="387" font-size="22" font-weight="bold" fill="#10161d" textLength="250" lengthAdjust="spacingAndGlyphs">Testodenetundueciccate</text>
<text x="82" y="668" font-size="22" font-weight="normal" fill="#1c2833" stroke="#1c2833" stroke-width="0.35" textLength="106" lengthAdjust="spacingAndGlyphs">Testorione</text>
<text x="280" y="667.5" font-size="21" font-weight="normal" fill="#1c2833" stroke="#1c2833" stroke-width="0.35" textLength="112" lengthAdjust="spacingAndGlyphs">Tetomekine</text>
<text x="662" y="668" font-size="22" font-weight="normal" fill="#1c2833" stroke="#1c2833" stroke-width="0.35" textLength="120" lengthAdjust="spacingAndGlyphs">Tetodmoine</text>
<text x="874" y="668" font-size="22" font-weight="normal" fill="#1c2833" stroke="#1c2833" stroke-width="0.35" textLength="106" lengthAdjust="spacingAndGlyphs">Testorllore</text>
<text x="98" y="799" font-size="20.5" font-weight="normal" fill="#24313c" stroke="#24313c" stroke-width="0.35" textLength="58" lengthAdjust="spacingAndGlyphs">Lalore</text>
<text x="91" y="923" font-size="21.5" font-weight="normal" fill="#1c2833" stroke="#1c2833" stroke-width="0.35" textLength="240" lengthAdjust="spacingAndGlyphs">Tototetinem toretastonl</text>
<text x="462" y="978" font-size="22.5" font-weight="bold" fill="#10161d" textLength="139" lengthAdjust="spacingAndGlyphs">Caloriac taine</text>
<text x="783" y="923" font-size="21" font-weight="bold" fill="#10161d" textLength="85" lengthAdjust="spacingAndGlyphs">Testoote</text>
</g>
<g fill="#2f2a21"><path d="M215,532 L229.5,519 L229.5,527.5 L264.0,527.5 L264.0,519 L278.5,532 L264.0,545 L264.0,536.5 L229.5,536.5 L229.5,545 Z"/><path d="M777,532 L791.5,518.8 L791.5,527.4 L825.5,527.4 L825.5,518.8 L840,532 L825.5,545.2 L825.5,536.6 L791.5,536.6 L791.5,545.2 Z"/><path d="M241.5,651.2 L255.9,669.2 L246.7,669.2 L246.7,706.5 L255.9,706.5 L241.5,724.5 L227.1,706.5 L236.3,706.5 L236.3,669.2 L227.1,669.2 Z"/><path d="M821,651.2 L835.8,669.2 L826.2,669.2 L826.2,705.5 L835.8,705.5 L821,723.5 L806.2,705.5 L815.8,705.5 L815.8,669.2 L806.2,669.2 Z"/><path d="M522.0,336 Q527.5,329 533.0,336 L533.0,383 L542.5,383 L527.5,401 L512.5,383 L522.0,383 Z"/><path d="M529,56 L541,71.5 L530.8,71.5 L530.8,90 L527.2,90 L527.2,71.5 L517,71.5 Z"/><path d="M94,827 L163,827 L163,818 L176,831 L163,844 L163,835 L94,835 Q90,835 90,831 Q90,827 94,827 Z"/><path d="M527.5,845.6 L535.5,856.5 L529.5,856.5 L529.5,870 L525.5,870 L525.5,856.5 L519.5,856.5 Z"/></g>
</svg>
</body></html>
